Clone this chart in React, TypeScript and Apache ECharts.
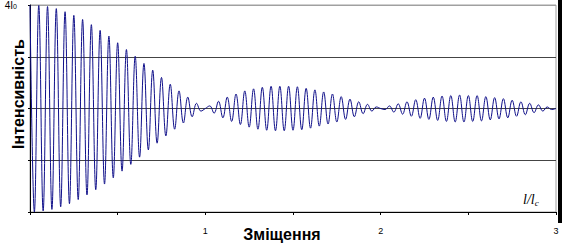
import React, { useEffect, useRef } from "react";
import * as echarts from "echarts";

// Intensity (in units of I0) at successive maxima/minima of the fringe pattern,
// read from the picture; one value every half fringe period.
const sampleStep = 0.025; // l/lc between successive extrema
const intensityExtrema: number[] = [
  4.0, 0.0, 3.99, 0.02, 3.97, 0.05, 3.93, 0.1, 3.87, 0.16,
  3.8, 0.24, 3.72, 0.33, 3.62, 0.43, 3.51, 0.54, 3.4, 0.66,
  3.27, 0.79, 3.14, 0.92, 3.01, 1.06, 2.87, 1.2, 2.74, 1.33,
  2.6, 1.47, 2.47, 1.6, 2.34, 1.72, 2.22, 1.84, 2.1, 1.95,
  2.0, 2.05, 1.91, 2.14, 1.82, 2.22, 1.75, 2.28, 1.69, 2.34,
  1.64, 2.38, 1.6, 2.41, 1.58, 2.43, 1.57, 2.43, 1.57, 2.43,
  1.58, 2.42, 1.59, 2.39, 1.62, 2.36, 1.66, 2.32, 1.7, 2.28,
  1.74, 2.23, 1.79, 2.18, 1.84, 2.13, 1.9, 2.08, 1.95, 2.03,
  2.0, 1.98, 2.05, 1.93, 2.09, 1.89, 2.13, 1.85, 2.17, 1.81,
  2.2, 1.79, 2.22, 1.77, 2.24, 1.75, 2.25, 1.74, 2.26, 1.74,
  2.25, 1.75, 2.25, 1.76, 2.23, 1.78, 2.21, 1.8, 2.19, 1.82,
  2.16, 1.85, 2.13, 1.88, 2.1, 1.92, 2.07, 1.95, 2.03, 1.98,
  2.0,
];
const xTickLabels = ["1", "2", "3"];
const yAxisTitle = "Інтенсивність";
const xAxisTitle = "Зміщення";

export default function App() {
  const ref = useRef<HTMLDivElement>(null);
  useEffect(() => {
    document.body.style.margin = "0";
    if (!ref.current) return;
    const chart = echarts.init(ref.current, null, { renderer: "svg" });
    const seriesData = intensityExtrema.map((v, i) => [i * sampleStep, v]);
    chart.setOption({
      animation: false,
      backgroundColor: "#ffffff",
      grid: {
        left: 30,
        right: 6,
        top: 5,
        bottom: 31,
        show: true,
        borderColor: "#a0a0a0",
        borderWidth: 1,
      },
      xAxis: {
        type: "value",
        min: 0,
        max: 3,
        interval: 0.5,
        axisLine: { show: true, lineStyle: { color: "#000", width: 1 } },
        axisTick: { show: true, length: 3, lineStyle: { color: "#000" } },
        splitLine: { show: false },
        axisLabel: {
          margin: 14,
          fontSize: 9,
          fontFamily: "Arial, 'Liberation Sans', sans-serif",
          color: "#000",
          formatter: (v: number) =>
            Number.isInteger(v) && v > 0 ? xTickLabels[v - 1] : "",
        },
      },
      yAxis: {
        type: "value",
        min: 0,
        max: 4,
        interval: 1,
        axisLine: { show: true, lineStyle: { color: "#000", width: 1 } },
        axisTick: { show: true, length: 2, lineStyle: { color: "#000" } },
        splitLine: {
          show: true,
          lineStyle: {
            color: ["#444", "#444", "#444", "#444", "#a0a0a0"],
            width: 1,
          },
        },
        axisLabel: {
          margin: 13,
          color: "#000",
          fontFamily: "Arial, 'Liberation Sans', sans-serif",
          formatter: (v: number) => (v === 4 ? "{a|4I}{b|0}" : ""),
          rich: {
            a: { fontSize: 10, fontFamily: "Arial, 'Liberation Sans', sans-serif", color: "#000" },
            b: {
              fontSize: 7,
              fontFamily: "Arial, 'Liberation Sans', sans-serif",
              color: "#000",
              verticalAlign: "bottom",
              padding: [3, 0, 0, 0],
            },
          },
        },
      },
      series: [
        {
          type: "line",
          data: seriesData,
          showSymbol: false,
          smooth: 0.4,
          clip: false,
          lineStyle: { color: "#10108a", width: 1 },
        },
      ],
      graphic: [
        {
          type: "text",
          x: 18,
          y: 94,
          rotation: Math.PI / 2,
          style: {
            text: yAxisTitle,
            fontSize: 16,
            fontWeight: "bold",
            fontFamily: "Arial, 'Liberation Sans', sans-serif",
            fill: "#000",
            align: "center",
            verticalAlign: "middle",
          },
        },
        {
          type: "text",
          x: 282,
          y: 234,
          style: {
            text: xAxisTitle,
            fontSize: 16,
            fontWeight: "bold",
            fontFamily: "Arial, 'Liberation Sans', sans-serif",
            fill: "#000",
            align: "center",
            verticalAlign: "middle",
          },
        },
        {
          type: "text",
          x: 523,
          y: 192,
          style: {
            text: "{a|l/l}{b|c}",
            rich: {
              a: {
                fontSize: 14,
                fontStyle: "italic",
                fontFamily: "'Times New Roman', 'Liberation Serif', serif",
                fill: "#000",
              },
              b: {
                fontSize: 9,
                fontStyle: "italic",
                fontFamily: "'Times New Roman', 'Liberation Serif', serif",
                fill: "#000",
                padding: [6, 0, 0, 0],
              },
            },
          },
        },
        {
          type: "rect",
          shape: { x: 558, y: 0, width: 4, height: 223 },
          style: { fill: "#000" },
        },
      ],
    });
    return () => chart.dispose();
  }, []);
  return <div ref={ref} style={{ width: 562, height: 243 }} />;
}
